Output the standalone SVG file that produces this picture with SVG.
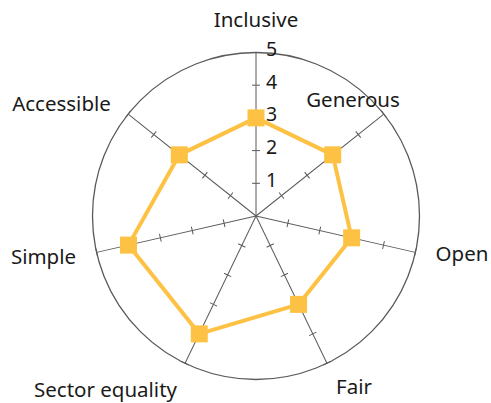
<svg xmlns="http://www.w3.org/2000/svg" width="491" height="403" viewBox="0 0 491 403">
  <style>
    .ring { fill: none; stroke: #5a5a5a; stroke-width: 1.3; }
    .axis { stroke: #5a5a5a; stroke-width: 1; fill: none; }
    .lbl { font-family: "Noto Sans", "Open Sans", sans-serif; font-size: 20.5px; fill: #1a1a1a; text-anchor: middle; }
    .num { font-family: "Noto Sans", "Open Sans", sans-serif; font-size: 19.5px; fill: #1a1a1a; }
    .series { fill: none; stroke: #FDC243; stroke-width: 4; stroke-linejoin: round; }
    .pt { fill: #FDC243; }
  </style>
  <defs>
    <g id="axisShape">
      <line x1="256" y1="216" x2="256" y2="52.5"/>
      <path d="M252 183.3H260M252 150.6H260M252 117.9H260M252 85.2H260M252 52.5H260"/>
    </g>
  </defs>
  <circle class="ring" cx="256" cy="216" r="163.5"/>
  <g id="connectors" class="axis">
    <use href="#axisShape"/>
    <use href="#axisShape" transform="rotate(51.4286 256 216)"/>
    <use href="#axisShape" transform="rotate(102.8571 256 216)"/>
    <use href="#axisShape" transform="rotate(154.2857 256 216)"/>
    <use href="#axisShape" transform="rotate(205.7143 256 216)"/>
    <use href="#axisShape" transform="rotate(257.1429 256 216)"/>
    <use href="#axisShape" transform="rotate(308.5714 256 216)"/>
  </g>
  <g id="scale">
    <text class="num" x="266" y="187">1</text>
    <text class="num" x="266" y="154.2">2</text>
    <text class="num" x="266" y="121.4">3</text>
    <text class="num" x="266" y="88.7">4</text>
    <text class="num" x="266" y="56">5</text>
  </g>
  <g id="series">
    <polygon class="series" points="256,117.9 332.7,154.84 351.64,237.83 298.56,304.39 199.25,333.85 128.48,245.11 179.3,154.84"/>
    <rect class="pt" x="247.5" y="109.4" width="17" height="17"/>
    <rect class="pt" x="324.2" y="146.34" width="17" height="17"/>
    <rect class="pt" x="343.14" y="229.33" width="17" height="17"/>
    <rect class="pt" x="290.06" y="295.89" width="17" height="17"/>
    <rect class="pt" x="190.75" y="325.35" width="17" height="17"/>
    <rect class="pt" x="119.98" y="236.61" width="17" height="17"/>
    <rect class="pt" x="170.8" y="146.34" width="17" height="17"/>
  </g>
  <g id="inclusive"><text class="lbl" x="256" y="27">Inclusive</text></g>
  <g id="generous"><text class="lbl" x="353" y="107">Generous</text></g>
  <g id="open"><text class="lbl" x="462" y="261">Open</text></g>
  <g id="fair"><text class="lbl" x="354" y="394">Fair</text></g>
  <g id="sector-equality"><text class="lbl" x="105.5" y="397">Sector equality</text></g>
  <g id="simple"><text class="lbl" x="43.5" y="264">Simple</text></g>
  <g id="accessible"><text class="lbl" x="61.5" y="111">Accessible</text></g>
</svg>
